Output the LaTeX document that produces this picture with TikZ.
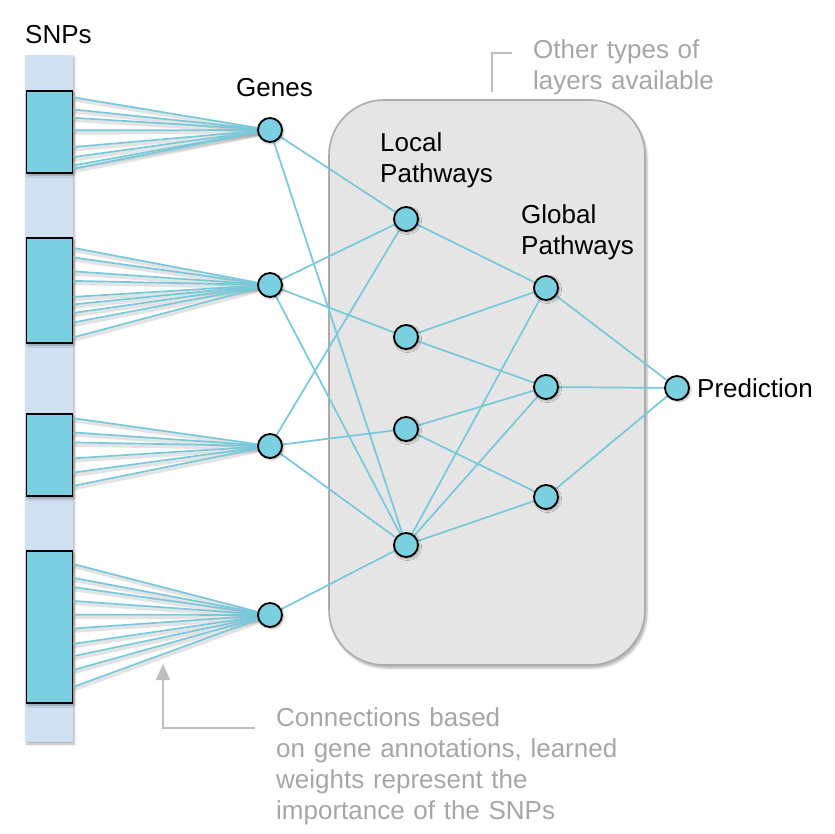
\documentclass[tikz,border=0pt]{standalone}
\usepackage{fontspec}
\setmainfont{Liberation Sans}
\usetikzlibrary{arrows.meta,calc,shadows.blur}
\definecolor{nodecyan}{RGB}{122,207,224}
\definecolor{linecyan}{RGB}{118,200,218}
\definecolor{barblue}{RGB}{207,224,242}
\definecolor{boxfill}{RGB}{229,229,229}
\definecolor{boxline}{RGB}{172,172,172}
\definecolor{notegray}{RGB}{166,166,166}
\definecolor{calloutgray}{RGB}{190,190,190}
\tikzset{
  neuron/.style={circle, draw=black, line width=1.8pt, fill=nodecyan, minimum size=24pt, inner sep=0pt,
    blur shadow={shadow xshift=1.5pt, shadow yshift=-1.5pt, shadow blur steps=4, shadow opacity=35}},
  snpblock/.style={draw=black, line width=1.6pt, fill=nodecyan, minimum width=46pt, inner sep=0pt,
    blur shadow={shadow xshift=1.5pt, shadow yshift=-2pt, shadow blur steps=4, shadow opacity=35}},
  link/.style={draw=linecyan, line width=1.7pt},
  linkshadow/.style={draw=black!60, opacity=0.18, line width=3.5pt},
  label/.style={font=\fontsize{26}{31}\selectfont, anchor=base west, inner sep=0pt, align=left, text width=420pt},
  note/.style={label, text=notegray},
  callout/.style={draw=calloutgray, line width=1.6pt}
}
\begin{document}
\begin{tikzpicture}[x=1pt,y=-1pt]
\useasboundingbox (0,0) rectangle (835,834);
% SNP bar
\node[draw=none, fill=barblue, minimum width=48pt, minimum height=687pt, inner sep=0pt,
  blur shadow={shadow xshift=1.5pt, shadow yshift=-2pt, shadow blur steps=4, shadow opacity=30}] (bar) at (49,398.5) {};
% pathway box
\node[draw=boxline, line width=1.6pt, fill=boxfill, rounded corners=55pt, minimum width=316pt, minimum height=565pt, inner sep=0pt,
  blur shadow={shadow xshift=2pt, shadow yshift=-3pt, shadow blur steps=6, shadow opacity=30}] (box) at (487,382.5) {};
% neuron positions
\coordinate (g1) at (270,130);
\coordinate (g2) at (270,285);
\coordinate (g3) at (270,446);
\coordinate (g4) at (270,615);
\coordinate (l1) at (406,219);
\coordinate (l2) at (406,337);
\coordinate (l3) at (406,429);
\coordinate (l4) at (406,545);
\coordinate (p1) at (546,288);
\coordinate (p2) at (546,387);
\coordinate (p3) at (546,497);
\coordinate (pr) at (677,388);
% SNP blocks
\node[snpblock, minimum height=82pt] (b1) at (49.5,132) {};
\node[snpblock, minimum height=105pt] (b2) at (49.5,290.5) {};
\node[snpblock, minimum height=82pt] (b3) at (49.5,455) {};
\node[snpblock, minimum height=152pt] (b4) at (49.5,627) {};
% fan shadows and fan lines
\foreach \b/\g/\fl in {b1/g1/{0.085,0.23,0.33,0.48,0.68,0.80,0.90,0.94},
                       b2/g2/{0.10,0.19,0.32,0.41,0.56,0.63,0.71,0.80,0.94},
                       b3/g3/{0.06,0.23,0.35,0.54,0.71,0.87},
                       b4/g4/{0.09,0.18,0.24,0.33,0.42,0.51,0.61,0.69,0.78,0.89}}{
  \foreach \f in \fl {
    \draw[linkshadow] ($(\b.north east)!\f!(\b.south east)+(1,2.5)$) -- ($(\g)+(1,2.5)$);
  }
  \foreach \f in \fl {
    \draw[link] ($(\b.north east)!\f!(\b.south east)$) -- (\g);
  }
}
% connections
\foreach \a/\c in {g1/l1,g1/l4,g2/l1,g2/l2,g2/l4,g3/l1,g3/l3,g3/l4,g4/l4,
                   l1/p1,l2/p1,l2/p2,l3/p2,l3/p3,l4/p1,l4/p2,l4/p3,
                   p1/pr,p2/pr,p3/pr}{
  \draw[link] (\a) -- (\c);
}
% neurons
\foreach \n in {g1,g2,g3,g4,l1,l2,l3,l4,p1,p2,p3,pr}{
  \node[neuron] (n-\n) at (\n) {};
}
% labels
\node[label] (snps) at (25,44) {SNPs};
\node[label] (genes) at (236,97) {Genes};
\node[label] (local) at (380,152) {Local\\Pathways};
\node[label] (global) at (521,224) {Global\\Pathways};
\node[label] (pred) at (697,397) {Prediction};
\node[note] (other) at (533,59) {Other types of\\layers available};
\node[note] (conn) at (276,726) {Connections based\\on gene annotations, learned\\weights represent the\\importance of the SNPs};
% callouts
\coordinate (oc1) at (492,92);
\coordinate (oc2) at (492,53);
\coordinate (oc3) at (512,53);
\draw[callout] (oc1) -- (oc2) -- (oc3);
\coordinate (cc1) at (255,728);
\coordinate (cc2) at (163,728);
\coordinate (cc3) at (163,664);
\draw[callout, -{Triangle[width=14pt,length=16pt]}] (cc1) -- (cc2) -- (cc3);
\end{tikzpicture}
\end{document}
